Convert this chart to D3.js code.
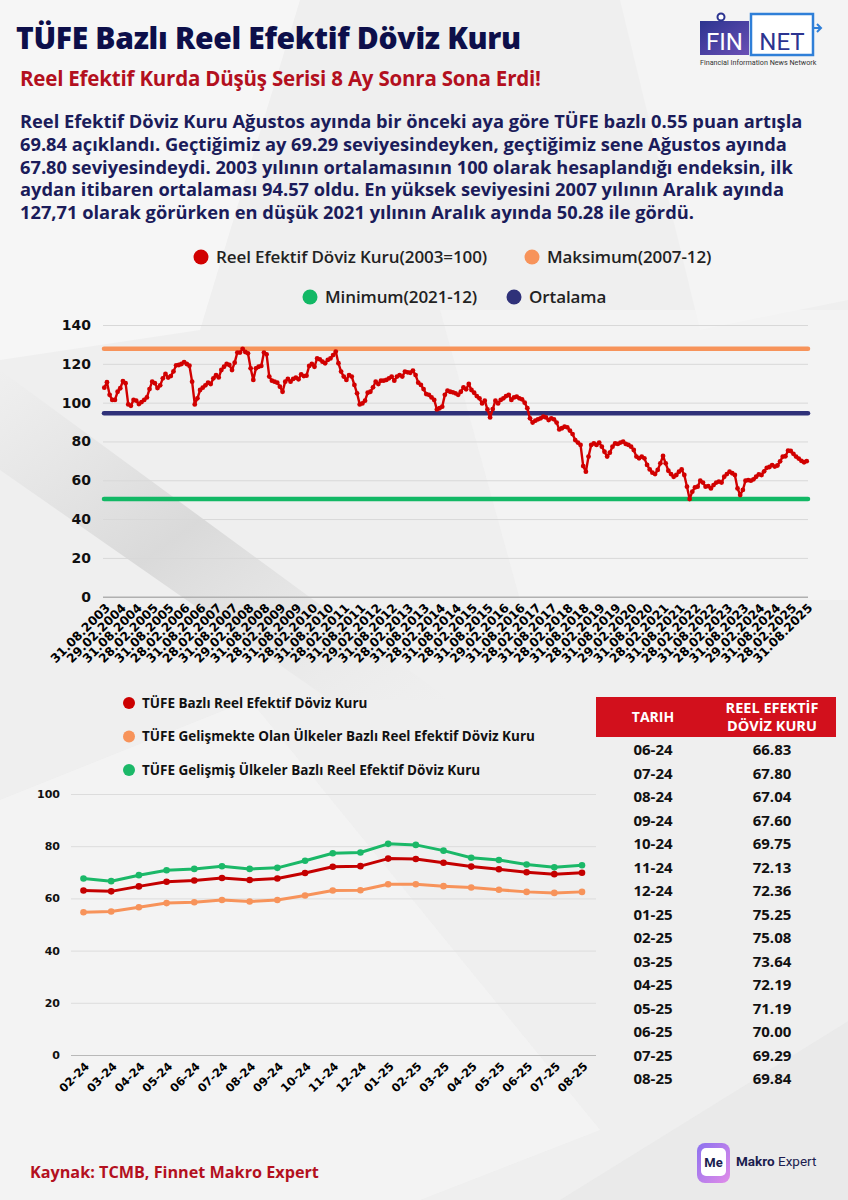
<!DOCTYPE html>
<html>
<head>
<meta charset="utf-8">
<script src="https://cdn.jsdelivr.net/npm/d3@7"></script>
<style>
  body { margin: 0; background: #efefef; }
  svg { display: block; }
</style>
</head>
<body>
<svg id="page" width="848" height="1200"></svg>
<script>
// monthly TÜFE based REER, 2003-08 ... 2025-08
const reerValues = [
  107.7, 110.5, 104.0, 101.4, 101.4, 105.6, 107.4, 111.1, 110.0, 99.1,
  98.4, 101.4, 101.0, 99.3, 100.3, 101.4, 102.7, 107.0, 110.8, 110.0,
  107.5, 108.9, 112.5, 114.8, 112.9, 113.7, 116.1, 119.2, 119.4, 119.9,
  120.9, 119.9, 119.0, 110.8, 99.1, 102.2, 106.5, 107.7, 108.9, 110.3,
  109.6, 112.5, 114.1, 113.0, 116.8, 118.5, 119.9, 119.4, 116.8, 120.6,
  125.8, 125.8, 127.71, 126.1, 125.4, 117.7, 111.7, 117.7, 118.5, 118.9,
  125.8, 124.9, 113.4, 111.3, 110.8, 110.3, 108.2, 105.6, 110.8, 112.2,
  110.8, 112.2, 112.9, 112.0, 114.6, 113.7, 113.9, 118.9, 119.9, 118.5,
  122.8, 122.3, 121.1, 120.3, 122.0, 122.8, 124.5, 126.3, 120.3, 116.0,
  113.4, 111.7, 114.2, 113.4, 109.1, 104.8, 99.1, 99.6, 101.0, 105.1,
  105.6, 107.9, 110.8, 109.6, 111.3, 111.3, 111.7, 112.5, 113.4, 111.3,
  113.4, 114.2, 113.4, 116.0, 115.6, 115.4, 116.5, 114.2, 110.3, 109.1,
  107.0, 104.4, 104.0, 102.7, 101.4, 96.5, 97.1, 97.9, 104.0, 106.2,
  105.6, 105.3, 104.8, 104.0, 105.6, 107.9, 106.9, 109.6, 106.5, 105.1,
  103.4, 102.2, 99.6, 101.0, 96.5, 92.4, 96.7, 101.0, 99.6, 101.4,
  102.2, 103.4, 104.0, 101.4, 102.7, 103.1, 102.2, 101.7, 100.0, 97.1,
  91.9, 89.7, 90.7, 91.4, 91.9, 92.8, 92.4, 91.0, 91.9, 91.4,
  89.7, 86.2, 86.8, 87.6, 87.3, 85.6, 83.8, 80.7, 79.4, 78.2,
  67.3, 64.4, 72.2, 78.2, 79.0, 78.2, 79.4, 77.3, 74.7, 72.2,
  74.2, 77.3, 79.0, 78.7, 79.4, 79.9, 78.7, 78.2, 77.3, 75.6,
  72.2, 71.3, 72.2, 71.3, 67.9, 65.6, 63.9, 63.2, 65.3, 68.7,
  72.5, 68.7, 64.9, 63.2, 61.8, 62.7, 64.4, 65.6, 62.7, 56.7,
  50.28, 54.1, 56.3, 56.7, 59.8, 58.8, 56.7, 57.0, 55.8, 57.5,
  58.8, 59.3, 58.8, 61.8, 63.2, 64.4, 63.6, 62.7, 55.8, 52.4,
  55.0, 59.8, 60.1, 59.8, 60.5, 61.8, 63.0, 62.7, 64.6, 66.4,
  66.83, 67.80, 67.04, 67.60, 69.75, 72.13, 72.36, 75.25, 75.08, 73.64,
  72.19, 71.19, 70.00, 69.29, 69.84
];

// one tick label every 6 months
const reerTickLabels = [
  "31.08.2003", "29.02.2004", "31.08.2004", "28.02.2005", "31.08.2005",
  "28.02.2006", "31.08.2006", "28.02.2007", "31.08.2007", "29.02.2008",
  "31.08.2008", "28.02.2009", "31.08.2009", "28.02.2010", "31.08.2010",
  "28.02.2011", "31.08.2011", "29.02.2012", "31.08.2012", "28.02.2013",
  "31.08.2013", "28.02.2014", "31.08.2014", "28.02.2015", "31.08.2015",
  "29.02.2016", "31.08.2016", "28.02.2017", "31.08.2017", "28.02.2018",
  "31.08.2018", "28.02.2019", "31.08.2019", "29.02.2020", "31.08.2020",
  "28.02.2021", "31.08.2021", "28.02.2022", "31.08.2022", "28.02.2023",
  "31.08.2023", "29.02.2024", "31.08.2024", "28.02.2025", "31.08.2025"
];

const levelMax = 127.71;
const levelAvg = 94.57;
const levelMin = 50.28;

const recentMonths = ["02-24", "03-24", "04-24", "05-24", "06-24", "07-24", "08-24", "09-24", "10-24",
  "11-24", "12-24", "01-25", "02-25", "03-25", "04-25", "05-25", "06-25", "07-25", "08-25"];
const recentTufe = [63.0, 62.7, 64.6, 66.4, 66.83, 67.80, 67.04, 67.60, 69.75, 72.13,
  72.36, 75.25, 75.08, 73.64, 72.19, 71.19, 70.00, 69.29, 69.84];
const recentEmerging = [54.7, 55.0, 56.6, 58.2, 58.5, 59.4, 58.8, 59.4, 61.1, 63.0,
  63.1, 65.4, 65.4, 64.7, 64.2, 63.3, 62.5, 62.1, 62.5];
const recentDeveloped = [67.6, 66.6, 68.9, 70.8, 71.3, 72.3, 71.3, 71.7, 74.4, 77.3,
  77.6, 80.9, 80.5, 78.3, 75.6, 74.7, 73.0, 71.9, 72.7];

const tableDates = ["06-24", "07-24", "08-24", "09-24", "10-24", "11-24", "12-24", "01-25",
  "02-25", "03-25", "04-25", "05-25", "06-25", "07-25", "08-25"];
const tableValues = ["66.83", "67.80", "67.04", "67.60", "69.75", "72.13", "72.36", "75.25",
  "75.08", "73.64", "72.19", "71.19", "70.00", "69.29", "69.84"];

const paragraph = [
  "Reel Efektif Döviz Kuru Ağustos ayında bir önceki aya göre TÜFE bazlı 0.55 puan artışla",
  "69.84 açıklandı. Geçtiğimiz ay 69.29 seviyesindeyken, geçtiğimiz sene Ağustos ayında",
  "67.80 seviyesindeydi. 2003 yılının ortalamasının 100 olarak hesaplandığı endeksin, ilk",
  "aydan itibaren ortalaması 94.57 oldu. En yüksek seviyesini 2007 yılının Aralık ayında",
  "127,71 olarak görürken en düşük 2021 yılının Aralık ayında 50.28 ile gördü."
];

const RED = "#d10000", ORANGE = "#f7935a", GREEN = "#12b865", NAVY = "#2f3179";
const NUM_FONT = "'DejaVu Sans', sans-serif";
const TXT_FONT = "'Open Sans', sans-serif";
const LOGO_FONT = "Roboto, sans-serif";

const svg = d3.select("#page");
const defs = svg.append("defs");

// ---- background
const shade = defs.append("linearGradient").attr("id", "shade")
  .attr("x1", 0).attr("y1", 0).attr("x2", 1).attr("y2", 1);
shade.append("stop").attr("offset", 0).attr("stop-color", "#cfcfcf").attr("stop-opacity", 0.0);
shade.append("stop").attr("offset", 0.45).attr("stop-color", "#c8c8c8").attr("stop-opacity", 0.55);
shade.append("stop").attr("offset", 1).attr("stop-color", "#e0e0e0").attr("stop-opacity", 0.0);

svg.append("rect").attr("width", 848).attr("height", 1200).attr("fill", "#efefef");
const bg = svg.append("g");
bg.append("polygon").attr("points", "0,0 300,0 200,330 0,360").attr("fill", "#f6f6f6");
bg.append("polygon").attr("points", "620,0 848,0 848,300 700,330").attr("fill", "#f4f4f4");
bg.append("polygon").attr("points", "0,370 0,470 330,700 450,700").attr("fill", "url(#shade)");
bg.append("polygon").attr("points", "440,310 848,310 848,600 520,600").attr("fill", "#f5f5f5").attr("opacity", 0.6);
bg.append("polygon").attr("points", "0,800 250,700 600,1130 420,1200 0,1200").attr("fill", "#f5f5f5").attr("opacity", 0.7);
bg.append("polygon").attr("points", "850,1020 848,1200 560,1200").attr("fill", "#e6e6e6").attr("opacity", 0.6);

// ---- header
svg.append("text").attr("x", 16).attr("y", 49)
  .attr("font-family", TXT_FONT).attr("font-weight", 800).attr("font-size", 30)
  .attr("letter-spacing", -0.3)
  .attr("fill", "#0d0f4a").text("TÜFE Bazlı Reel Efektif Döviz Kuru");

svg.append("text").attr("x", 20).attr("y", 86)
  .attr("font-family", TXT_FONT).attr("font-weight", 700).attr("font-size", 20.5)
  .attr("letter-spacing", -0.2)
  .attr("fill", "#b3101e").text("Reel Efektif Kurda Düşüş Serisi 8 Ay Sonra Sona Erdi!");

svg.append("g").selectAll("text").data(paragraph).join("text")
  .attr("x", 20).attr("y", (d, i) => 128 + i * 22.8)
  .attr("font-family", TXT_FONT).attr("font-weight", 700).attr("font-size", 18.3)
  .attr("fill", "#1b1c5a").text(d => d);

// FINNET logo
const finGrad = defs.append("linearGradient").attr("id", "finGrad")
  .attr("x1", 0).attr("y1", 0).attr("x2", 1).attr("y2", 1);
finGrad.append("stop").attr("offset", 0).attr("stop-color", "#2c3490");
finGrad.append("stop").attr("offset", 1).attr("stop-color", "#6a4fb5");
const logo = svg.append("g").attr("transform", "translate(700,13)");
logo.append("rect").attr("x", 0).attr("y", 8).attr("width", 49).attr("height", 34).attr("fill", "url(#finGrad)");
logo.append("text").attr("x", 24.5).attr("y", 37).attr("text-anchor", "middle")
  .attr("font-family", LOGO_FONT).attr("font-size", 24).attr("fill", "#fff").text("FIN");
logo.append("circle").attr("cx", 21).attr("cy", 4).attr("r", 3.5)
  .attr("fill", "#fff").attr("stroke", "#2c3490").attr("stroke-width", 2);
logo.append("rect").attr("x", 51).attr("y", 1).attr("width", 62).attr("height", 41)
  .attr("fill", "#fff").attr("stroke", "#2f7fd8").attr("stroke-width", 2.5);
logo.append("text").attr("x", 82).attr("y", 37).attr("text-anchor", "middle")
  .attr("font-family", LOGO_FONT).attr("font-size", 24).attr("fill", "#2c3490").text("NET");
logo.append("path").attr("d", "M113,15 L121,15 M117,11 L121,15 L117,19")
  .attr("fill", "none").attr("stroke", "#2f7fd8").attr("stroke-width", 2);
logo.append("text").attr("x", 0).attr("y", 52)
  .attr("font-family", LOGO_FONT).attr("font-size", 7.2).attr("fill", "#333")
  .text("Financial Information News Network");

// ---- top legend
const topLegend = [
  { label: "Reel Efektif Döviz Kuru(2003=100)", color: RED, x: 201, y: 257 },
  { label: "Maksimum(2007-12)", color: ORANGE, x: 532, y: 257 },
  { label: "Minimum(2021-12)", color: GREEN, x: 310, y: 297 },
  { label: "Ortalama", color: NAVY, x: 514, y: 297 }
];
const tl = svg.append("g").selectAll("g").data(topLegend).join("g")
  .attr("transform", d => `translate(${d.x},${d.y})`);
tl.append("circle").attr("r", 7.5).attr("fill", d => d.color);
tl.append("text").attr("x", 15).attr("dy", "0.36em")
  .attr("font-family", TXT_FONT).attr("font-weight", 600).attr("font-size", 17)
  .attr("letter-spacing", -0.1)
  .attr("fill", "#222").text(d => d.label);

// ---- top chart
const topBox = { left: 103, right: 808, top: 325, bottom: 596.7 };
const xTop = d3.scaleLinear().domain([0, reerValues.length - 1]).range([104.3, 806.7]);
const yTop = d3.scaleLinear().domain([0, 140]).range([topBox.bottom, topBox.top]);

const gTop = svg.append("g");
const yAxisTop = gTop.append("g").attr("transform", `translate(${topBox.left},0)`)
  .call(d3.axisLeft(yTop).tickValues(d3.range(0, 141, 20)).tickSize(-(topBox.right - topBox.left)).tickPadding(12));
yAxisTop.select(".domain").remove();
yAxisTop.selectAll("line").attr("stroke", d => d === 0 ? "#b0b0b0" : "#d8d8d8").attr("stroke-width", d => d === 0 ? 1.5 : 1);
yAxisTop.selectAll("text").attr("font-family", NUM_FONT).attr("font-weight", 700)
  .attr("font-size", 14).attr("fill", "#111");

const xAxisTop = gTop.append("g").attr("transform", `translate(0,${topBox.bottom})`)
  .call(d3.axisBottom(xTop).tickValues(d3.range(0, reerValues.length, 6))
    .tickFormat((d, i) => reerTickLabels[i]).tickSize(0));
xAxisTop.select(".domain").remove();
xAxisTop.selectAll("text")
  .attr("font-family", NUM_FONT).attr("font-weight", 700).attr("font-size", 12.3).attr("fill", "#000")
  .attr("text-anchor", "end").attr("y", 0).attr("dy", 0)
  .attr("transform", "translate(6,12) rotate(-45)");

const refLines = [
  { v: levelMax, color: ORANGE },
  { v: levelAvg, color: NAVY },
  { v: levelMin, color: GREEN }
];
gTop.append("g").selectAll("line").data(refLines).join("line")
  .attr("x1", topBox.left + 1).attr("x2", topBox.right)
  .attr("y1", d => yTop(d.v)).attr("y2", d => yTop(d.v))
  .attr("stroke", d => d.color).attr("stroke-width", 4.5).attr("stroke-linecap", "round");

gTop.append("path").datum(reerValues)
  .attr("fill", "none").attr("stroke", RED).attr("stroke-width", 2.4).attr("stroke-linejoin", "round")
  .attr("d", d3.line().x((d, i) => xTop(i)).y(d => yTop(d)));
gTop.append("g").selectAll("circle").data(reerValues).join("circle")
  .attr("cx", (d, i) => xTop(i)).attr("cy", d => yTop(d)).attr("r", 2.4).attr("fill", RED);

// ---- bottom legend
const botLegend = [
  { label: "TÜFE Bazlı Reel Efektif Döviz Kuru", color: "#cc0000" },
  { label: "TÜFE Gelişmekte Olan Ülkeler Bazlı Reel Efektif Döviz Kuru", color: ORANGE },
  { label: "TÜFE Gelişmiş Ülkeler Bazlı Reel Efektif Döviz Kuru", color: "#1bb868" }
];
const bl = svg.append("g").selectAll("g").data(botLegend).join("g")
  .attr("transform", (d, i) => `translate(129,${703 + i * 33.5})`);
bl.append("circle").attr("r", 6).attr("fill", d => d.color);
bl.append("text").attr("x", 13).attr("dy", "0.36em")
  .attr("font-family", TXT_FONT).attr("font-weight", 700).attr("font-size", 13.5)
  .attr("fill", "#111").text(d => d.label);

// ---- bottom chart
const botBox = { left: 71, right: 596, top: 794, bottom: 1055 };
const xBot = d3.scalePoint().domain(recentMonths).range([83.5, 582]);
const yBot = d3.scaleLinear().domain([0, 100]).range([botBox.bottom, botBox.top]);

const gBot = svg.append("g");
const yAxisBot = gBot.append("g").attr("transform", `translate(${botBox.left},0)`)
  .call(d3.axisLeft(yBot).tickValues(d3.range(0, 101, 20)).tickSize(-(botBox.right - botBox.left)).tickPadding(11));
yAxisBot.select(".domain").remove();
yAxisBot.selectAll("line").attr("stroke", d => d === 0 ? "#b8b8b8" : "#dcdcdc");
yAxisBot.selectAll("text").attr("font-family", NUM_FONT).attr("font-weight", 700)
  .attr("font-size", 11).attr("fill", "#111");

const xAxisBot = gBot.append("g").attr("transform", `translate(0,${botBox.bottom})`)
  .call(d3.axisBottom(xBot).tickSize(0));
xAxisBot.select(".domain").remove();
xAxisBot.selectAll("text")
  .attr("font-family", NUM_FONT).attr("font-weight", 700).attr("font-size", 11.5).attr("fill", "#000")
  .attr("text-anchor", "end").attr("y", 0).attr("dy", 0)
  .attr("transform", "translate(6,12) rotate(-45)");

const botSeries = [
  { values: recentDeveloped, color: "#1bb868" },
  { values: recentTufe, color: "#c40000" },
  { values: recentEmerging, color: ORANGE }
];
const bs = gBot.append("g").selectAll("g").data(botSeries).join("g");
bs.append("path")
  .attr("fill", "none").attr("stroke", d => d.color).attr("stroke-width", 3).attr("stroke-linejoin", "round")
  .attr("d", d => d3.line().x((v, i) => xBot(recentMonths[i])).y(v => yBot(v))(d.values));
bs.selectAll("circle").data(d => d.values.map(v => ({ v, c: d.color }))).join("circle")
  .attr("cx", (d, i) => xBot(recentMonths[i])).attr("cy", d => yBot(d.v)).attr("r", 3.3).attr("fill", d => d.c);

// ---- table
const table = svg.append("g");
table.append("rect").attr("x", 596).attr("y", 697).attr("width", 240).attr("height", 40).attr("fill", "#d2101c");
table.append("text").attr("x", 653).attr("y", 722).attr("text-anchor", "middle")
  .attr("font-family", TXT_FONT).attr("font-weight", 700).attr("font-size", 14).attr("fill", "#fff").text("TARIH");
table.append("text").attr("x", 772).attr("y", 713).attr("text-anchor", "middle")
  .attr("font-family", TXT_FONT).attr("font-weight", 700).attr("font-size", 14.5).attr("fill", "#fff").text("REEL EFEKTİF");
table.append("text").attr("x", 772).attr("y", 731).attr("text-anchor", "middle")
  .attr("font-family", TXT_FONT).attr("font-weight", 700).attr("font-size", 14.5).attr("fill", "#fff").text("DÖVİZ KURU");
const rows = table.selectAll("g.row").data(tableDates).join("g").attr("class", "row")
  .attr("transform", (d, i) => `translate(0,${750 + i * 23.5})`);
rows.append("text").attr("x", 653).attr("dy", "0.36em").attr("text-anchor", "middle")
  .attr("font-family", TXT_FONT).attr("font-weight", 700).attr("font-size", 15).attr("fill", "#111").text(d => d);
rows.append("text").attr("x", 772).attr("dy", "0.36em").attr("text-anchor", "middle")
  .attr("font-family", TXT_FONT).attr("font-weight", 700).attr("font-size", 15).attr("fill", "#111")
  .text((d, i) => tableValues[i]);

// ---- footer
svg.append("text").attr("x", 30).attr("y", 1178)
  .attr("font-family", TXT_FONT).attr("font-weight", 700).attr("font-size", 16.2)
  .attr("fill", "#b3101e").text("Kaynak: TCMB, Finnet Makro Expert");

const meGrad = defs.append("linearGradient").attr("id", "meGrad")
  .attr("x1", 0).attr("y1", 0).attr("x2", 1).attr("y2", 1);
meGrad.append("stop").attr("offset", 0).attr("stop-color", "#7b5cf0");
meGrad.append("stop").attr("offset", 1).attr("stop-color", "#e07be8");
const me = svg.append("g").attr("transform", "translate(697,1143)");
me.append("rect").attr("width", 33).attr("height", 40).attr("rx", 8).attr("fill", "url(#meGrad)").attr("opacity", 0.85);
me.append("rect").attr("x", 4).attr("y", 5).attr("width", 25).attr("height", 28).attr("rx", 5).attr("fill", "#fff");
me.append("text").attr("x", 16.5).attr("y", 24).attr("text-anchor", "middle")
  .attr("font-family", LOGO_FONT).attr("font-weight", 700).attr("font-size", 13).attr("fill", "#1c1d4f").text("Me");
const mt = svg.append("text").attr("x", 736).attr("y", 1166)
  .attr("font-family", LOGO_FONT).attr("font-size", 13.5).attr("fill", "#1c1d4f");
mt.append("tspan").attr("font-weight", 700).text("Makro");
mt.append("tspan").text(" Expert");
</script>
</body>
</html>
